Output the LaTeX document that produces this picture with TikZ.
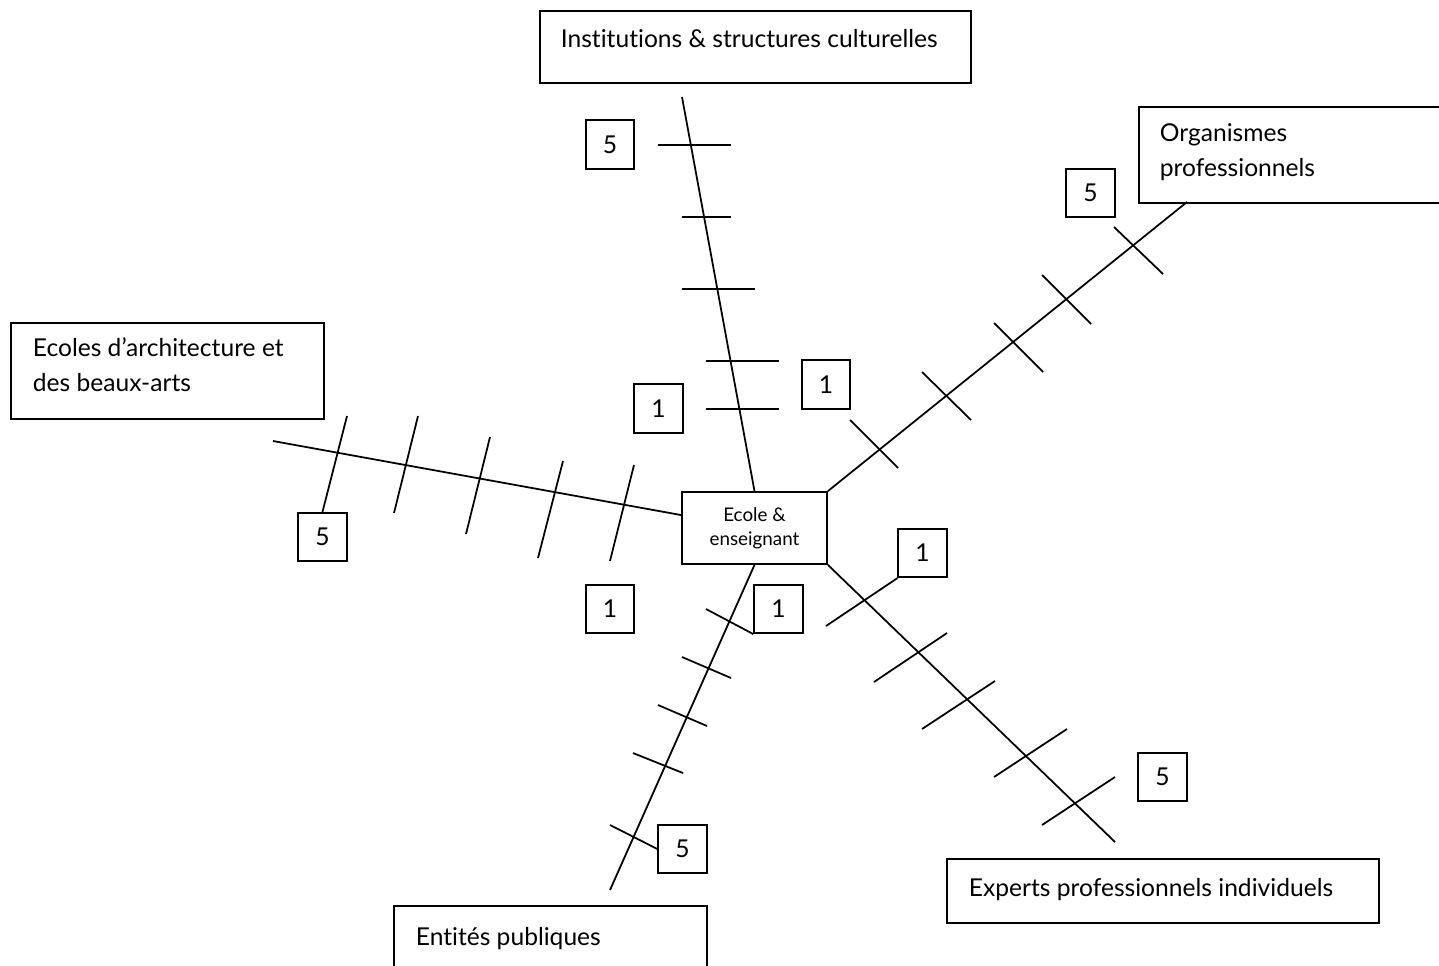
\documentclass[tikz,border=0pt]{standalone}
\usepackage{fontspec}
\setmainfont{Lato}[Ligatures=NoCommon]
\begin{document}
\begin{tikzpicture}[x=0.02cm,y=-0.02cm, line width=1pt,
  box/.style={draw, line width=1pt, inner sep=0, anchor=north west},
  txt/.style={anchor=base west, inner sep=0, font=\fontsize{14}{19.9}\selectfont},
  num/.style={draw, line width=1pt, minimum width=0.97cm, minimum height=0.97cm, inner sep=0, font=\fontsize{14}{15}\selectfont},
  spoke/.style={line width=1pt},
  tickline/.style={line width=1pt}]
\useasboundingbox (0,0) rectangle (1439,966);
\clip (0,0) rectangle (1439,966);

% outer boxes
\node[box, minimum width=8.62cm, minimum height=1.44cm] (inst) at (539,10) {};
\node[box, minimum width=6.4cm, minimum height=1.92cm] (org) at (1138,106) {};
\node[box, minimum width=6.26cm, minimum height=1.92cm] (eco) at (10,322) {};
\node[box, minimum width=6.26cm, minimum height=1.6cm] (ent) at (393,905) {};
\node[box, minimum width=8.64cm, minimum height=1.28cm] (exp) at (946,858) {};

% texts
\node[txt] (instT) at (560,48) {Institutions \& structures culturelles};
\node[txt] (orgT1) at (1159,142) {Organismes};
\node[txt] (orgT2) at (1159,176) {professionnels};
\node[txt] (ecoT1) at (32,356) {Ecoles d’architecture et};
\node[txt] (ecoT2) at (32,391) {des beaux-arts};
\node[txt] (entT) at (415,945) {Entités publiques};
\node[txt] (expT) at (968,896) {Experts professionnels individuels};

% centre
\node[draw, line width=1pt, minimum width=2.9cm, minimum height=1.44cm, inner sep=0,
  align=center, font=\fontsize{10.7}{13.6}\selectfont] (c) at (754.5,528) {Ecole \&\\enseignant};

% number boxes
\node[num] (t5) at (610,144.5) {5};
\node[num] (t1a) at (658.5,408.5) {1};
\node[num] (t1b) at (826,384.5) {1};
\node[num] (n5) at (1090.5,193) {5};
\node[num] (w5) at (322.5,537) {5};
\node[num] (w1) at (610,609) {1};
\node[num] (s1) at (778.5,609) {1};
\node[num] (s5) at (682.5,849) {5};
\node[num] (e1) at (922.5,553) {1};
\node[num] (e5) at (1162.5,777) {5};

% spoke ends
\coordinate (topend) at (682,97);
\coordinate (orgend) at (1187,202);
\coordinate (westend) at (273,441);
\coordinate (southend) at (610,890);
\coordinate (seend) at (1115,842);

\draw[spoke] (c.north) -- (topend);
\draw[spoke] (c.north east) -- (orgend);
\draw[spoke] (c.170.6) -- (westend);
\draw[spoke] (c.south) -- (southend);
\draw[spoke] (c.south east) -- (seend);

% ticks top
\draw[tickline] (658,145) -- (731,145);
\draw[tickline] (682,217) -- (731,217);
\draw[tickline] (682,289) -- (755,289);
\draw[tickline] (706,361) -- (779,361);
\draw[tickline] (706,409) -- (779,409);
% ticks NE
\draw[tickline] (850,420) -- (898,468);
\draw[tickline] (922,372) -- (971,420);
\draw[tickline] (994,323) -- (1043,372);
\draw[tickline] (1042,275) -- (1091,324);
\draw[tickline] (1114,227) -- (1163,274);
% ticks W
\draw[tickline] (347,416) -- (w5.north);
\draw[tickline] (418,416) -- (394,513);
\draw[tickline] (490,437) -- (466,534);
\draw[tickline] (563,461) -- (538,558);
\draw[tickline] (634,465) -- (610,561);
% ticks S
\draw[tickline] (706,609) -- (s1.south west);
\draw[tickline] (682,657) -- (731,678);
\draw[tickline] (658,705) -- (707,726);
\draw[tickline] (633,753) -- (683,773);
\draw[tickline] (610,825) -- (s5.west);
% ticks SE
\draw[tickline] (826,626) -- (e1.south west);
\draw[tickline] (874,682) -- (947,633);
\draw[tickline] (922,729) -- (995,681);
\draw[tickline] (994,777) -- (1067,729);
\draw[tickline] (1042,825) -- (1115,777);
\end{tikzpicture}
\end{document}
